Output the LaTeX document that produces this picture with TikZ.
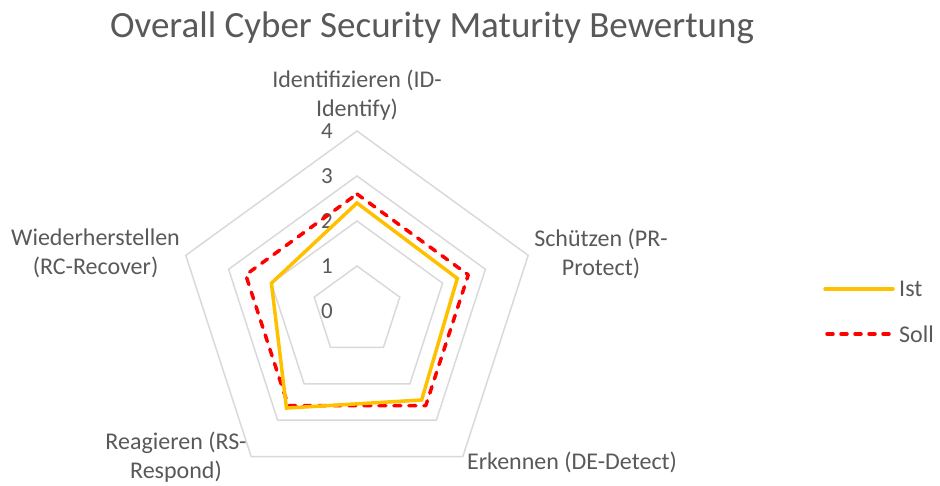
\documentclass[tikz,border=0pt]{standalone}
\usepackage{fontspec}
\setmainfont{Carlito}
\definecolor{txt}{HTML}{595959}
\definecolor{gridc}{HTML}{D9D9D9}
\definecolor{istc}{HTML}{FFC000}
\definecolor{sollc}{HTML}{FF0000}
\begin{document}
\begin{tikzpicture}[x=1pt,y=1pt,
  lbl/.style={text=txt, font=\fontsize{24}{29}\selectfont, align=center, inner sep=0pt},
  ticklbl/.style={text=txt, font=\fontsize{23}{26}\selectfont, anchor=east, inner sep=0pt},
  titlelbl/.style={text=txt, font=\fontsize{37}{42}\selectfont, inner sep=0pt},
  gridline/.style={draw=gridc, line width=1.5pt, line join=miter},
  istline/.style={draw=istc, line width=3.5pt, line join=miter},
  sollline/.style={draw=sollc, line width=3.5pt, dash pattern=on 7pt off 8pt, line cap=round, line join=round}]
\useasboundingbox (0,0) rectangle (940,486);
\node[titlelbl] (title) at (432,458) {Overall Cyber Security Maturity Bewertung};
\begin{scope}[shift={(357,175)}]
  \foreach \l in {1,...,4}{
    \draw[gridline] (90:45*\l) -- (18:45*\l) -- (-54:45*\l) -- (-126:45*\l) -- (162:45*\l) -- cycle;
  }
  \foreach \l in {0,...,4}{
    \node[ticklbl] (t\l) at (-24,45*\l) {\l};
  }
  % Soll
  \coordinate (s1) at (90:117);
  \coordinate (s2) at (18:117);
  \coordinate (s3) at (-54:117);
  \coordinate (s4) at (-126:117);
  \coordinate (s5) at (162:117);
  \draw[sollline] (s1) -- (s2) -- (s3) -- (s4) -- (s5) -- cycle;
  % Ist
  \coordinate (i1) at (90:108);
  \coordinate (i2) at (18:105.5);
  \coordinate (i3) at (-54:110);
  \coordinate (i4) at (-126:120);
  \coordinate (i5) at (162:90);
  \draw[istline] (i1) -- (i2) -- (i3) -- (i4) -- (i5) -- cycle;
\end{scope}
\node[lbl] (id) at (357,391) {Identifizieren (ID-\\Identify)};
\node[lbl] (pr) at (601,232.5) {Schützen (PR-\\Protect)};
\node[lbl] (de) at (572,24) {Erkennen (DE-Detect)};
\node[lbl] (rs) at (176,28.5) {Reagieren (RS-\\Respond)};
\node[lbl] (rc) at (95.5,232.5) {Wiederherstellen\\(RC-Recover)};
% legend
\coordinate (la1) at (825,197);
\coordinate (la2) at (893,197);
\draw[istline, line cap=round] (la1) -- (la2);
\node[lbl, anchor=west] (listtxt) at (899,197) {Ist};
\coordinate (lb1) at (827,152);
\coordinate (lb2) at (893,152);
\draw[sollline, dash pattern=on 6pt off 8pt] (lb1) -- (lb2);
\node[lbl, anchor=west] (lsoll) at (899,152) {Soll};
\end{tikzpicture}
\end{document}
